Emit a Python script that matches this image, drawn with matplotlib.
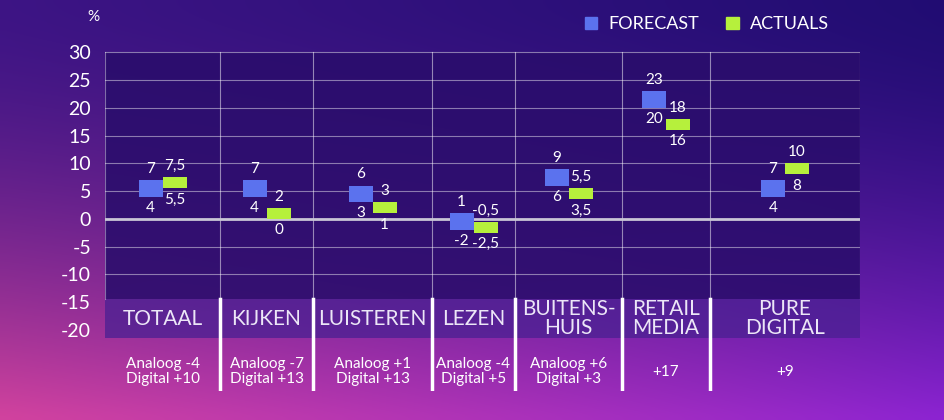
import numpy as np
import matplotlib.pyplot as plt
from matplotlib.patches import Patch

# data
categories = ["TOTAAL", "KIJKEN", "LUISTEREN", "LEZEN", "BUITENS-\nHUIS", "RETAIL\nMEDIA", "PURE\nDIGITAL"]
forecast_low = [4, 4, 3, -2, 6, 20, 4]
forecast_high = [7, 7, 6, 1, 9, 23, 7]
actuals_low = [5.5, 0, 1, -2.5, 3.5, 16, 8]
actuals_high = [7.5, 2, 3, -0.5, 5.5, 18, 10]
sub_labels = ["Analoog -4\nDigital +10", "Analoog -7\nDigital +13", "Analoog +1\nDigital +13",
              "Analoog -4\nDigital +5", "Analoog +6\nDigital +3", "+17", "+9"]
yticks = [30, 25, 20, 15, 10, 5, 0, -5, -10, -15, -20]

# layout (column widths in px as on the slide)
col_widths = [115, 93, 119, 83, 107, 88, 150]
edges = np.concatenate([[0], np.cumsum(col_widths)])
centers = (edges[:-1] + edges[1:]) / 2
bar_w = 24

C_FORE = "#5b72ee"
C_ACT = "#b6f03c"
FONT = ["Lato", "DejaVu Sans"]
plt.rcParams["font.family"] = FONT

fig = plt.figure(figsize=(9.44, 4.2), dpi=100)

# background gradient
bg = fig.add_axes([0, 0, 1, 1], zorder=-10)
tl = np.array([0.24, 0.08, 0.52])
tr = np.array([0.13, 0.05, 0.45])
bl = np.array([0.82, 0.26, 0.62])
br = np.array([0.55, 0.14, 0.82])
h, w = 60, 120
ys = np.linspace(0, 1, h)[:, None, None] ** 1.6
xs = np.linspace(0, 1, w)[None, :, None]
top = tl * (1 - xs) + tr * xs
bot = bl * (1 - xs) + br * xs
img = top * (1 - ys) + bot * ys
bg.imshow(img, aspect="auto", extent=[0, 1, 0, 1], interpolation="bicubic")
bg.axis("off")

ax = fig.add_axes([105 / 944, 29 / 420, 755 / 944, 347 / 420])
ax.patch.set_alpha(0)
ax.set_xlim(0, edges[-1])
ax.set_ylim(-31, 31.5)

# dark panel, label band
ax.axhspan(-14.5, 30, color="#2a0d6c", alpha=0.88, lw=0, zorder=0)
ax.axhspan(-21.5, -14.5, color="#4a2092", alpha=0.75, lw=0, zorder=0)

for y in range(-10, 31, 5):
    if y == 0:
        continue
    ax.plot([0, edges[-1]], [y, y], color="white", alpha=0.45, lw=0.8, zorder=1)
ax.plot([0, edges[-1]], [0, 0], color="#c9c6d6", lw=2, zorder=2)
for e in edges[1:-1]:
    ax.plot([e, e], [-14.5, 30], color="white", alpha=0.5, lw=0.8, zorder=1)
    ax.plot([e, e], [-14.5, -31], color="white", lw=2.5, zorder=2)
ax.plot([0, 0], [-14.5, 30], color="white", alpha=0.4, lw=0.8, zorder=1)
ax.plot([edges[-1], edges[-1]], [-14.5, 30], color="white", alpha=0.4, lw=0.8, zorder=1)

def fmt(v):
    return f"{v:g}".replace(".", ",")

fx = centers - bar_w / 2
axx = centers + bar_w / 2
ax.bar(fx, np.subtract(forecast_high, forecast_low), bottom=forecast_low, width=bar_w,
       color=C_FORE, zorder=3)
ax.bar(axx, np.subtract(actuals_high, actuals_low), bottom=actuals_low, width=bar_w,
       color=C_ACT, zorder=3)

for xs_, lows, highs in [(fx, forecast_low, forecast_high), (axx, actuals_low, actuals_high)]:
    for x, lo, hi in zip(xs_, lows, highs):
        ax.annotate(fmt(hi), (x, hi), xytext=(0, 3), textcoords="offset points",
                    ha="center", va="bottom", color="white", fontsize=11, zorder=4)
        ax.annotate(fmt(lo), (x, lo), xytext=(0, -3), textcoords="offset points",
                    ha="center", va="top", color="white", fontsize=11, zorder=4)

for c, name, sub in zip(centers, categories, sub_labels):
    ax.text(c, -18, name, ha="center", va="center", color="#ece6f7", fontsize=15,
            linespacing=0.95, zorder=4)
    ax.text(c, -27.5, sub, ha="center", va="center", color="white", fontsize=11,
            linespacing=1.1, zorder=4)

ax.set_yticks(yticks)
ax.set_yticklabels([str(t) for t in yticks])
ax.set_xticks([])
ax.tick_params(axis="y", length=0, pad=10, labelsize=14, labelcolor="white")
for s in ax.spines.values():
    s.set_visible(False)

fig.text(93 / 944, 1 - 17 / 420, "%", color="white", fontsize=11, ha="center", va="center")

handles = [Patch(color=C_FORE, label="FORECAST"), Patch(color=C_ACT, label="ACTUALS")]
fig.legend(handles=handles, loc="upper right", bbox_to_anchor=(0.895, 1.0), ncol=2,
           frameon=False, fontsize=13, labelcolor="white", handlelength=0.7,
           handleheight=0.7, columnspacing=1.5, handletextpad=0.6)

fig.savefig("out.png", dpi=100)
